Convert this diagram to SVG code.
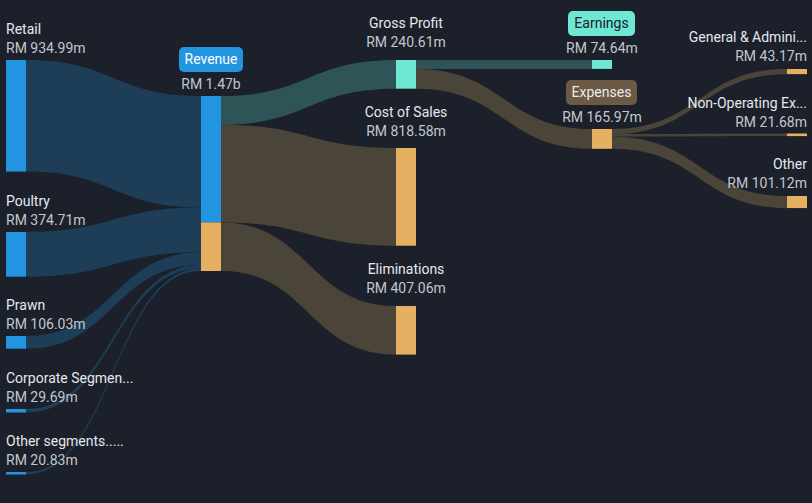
<svg xmlns="http://www.w3.org/2000/svg" width="812" height="503" viewBox="0 0 812 503">
<style>
text{font-family:Roboto,"Liberation Sans",sans-serif;font-size:14px}
.n{fill:#E6E8EB}
.v{fill:#C3C7CD}
.e{text-anchor:end}
.m{text-anchor:middle}
.lb{fill:#1E3E58}
.lt{fill:#2F5457}
.lo{fill:#4B4539}
.blue{fill:#2394DF}
.org{fill:#E5B062}
.teal{fill:#6EE7D3}
</style>
<rect width="812" height="503" fill="#1B202B"/>
<g id="links">
<path class="lb" d="M26,60 C113.5,60 113.5,96 201,96 L201,207.6 C113.5,207.6 113.5,171.6 26,171.6 Z"/>
<path class="lb" d="M26,232 C113.5,232 113.5,207.6 201,207.6 L201,252.3 C113.5,252.3 113.5,276.7 26,276.7 Z"/>
<path class="lb" d="M26,336 C113.5,336 113.5,252.3 201,252.3 L201,265 C113.5,265 113.5,348.7 26,348.7 Z"/>
<path class="lb" d="M26,409 C113.5,409 113.5,265 201,265 L201,268.5 C113.5,268.5 113.5,412.5 26,412.5 Z"/>
<path class="lb" d="M26,472 C113.5,472 113.5,268.5 201,268.5 L201,271 C113.5,271 113.5,474.5 26,474.5 Z"/>
<path class="lt" d="M221,96 C308.5,96 308.5,60 396,60 L396,88.7 C308.5,88.7 308.5,124.7 221,124.7 Z"/>
<path class="lo" d="M221,124.7 C308.5,124.7 308.5,148 396,148 L396,245.7 C308.5,245.7 308.5,222.4 221,222.4 Z"/>
<path class="lo" d="M221,222.4 C308.5,222.4 308.5,306 396,306 L396,354.6 C308.5,354.6 308.5,271 221,271 Z"/>
<path class="lt" d="M416,60 L592,60 L592,68.9 L416,68.9 Z"/>
<path class="lo" d="M416,68.9 C504,68.9 504,129 592,129 L592,148.8 C504,148.8 504,88.7 416,88.7 Z"/>
<path class="lo" d="M612,129 C699.5,129 699.5,69 787,69 L787,74.15 C699.5,74.15 699.5,134.15 612,134.15 Z"/>
<path class="lo" d="M612,134.15 C699.5,134.15 699.5,133.5 787,133.5 L787,136.1 C699.5,136.1 699.5,136.74 612,136.74 Z"/>
<path class="lo" d="M612,136.74 C699.5,136.74 699.5,196 787,196 L787,208.07 C699.5,208.07 699.5,148.8 612,148.8 Z"/>
</g>
<g id="retail">
<rect class="blue" x="6" y="60" width="20" height="111.6"/>
<text class="n" x="6" y="34">Retail</text>
<text class="v" x="6" y="53">RM 934.99m</text>
</g>
<g id="poultry">
<rect class="blue" x="6" y="232" width="20" height="44.7"/>
<text class="n" x="6" y="206">Poultry</text>
<text class="v" x="6" y="225">RM 374.71m</text>
</g>
<g id="prawn">
<rect class="blue" x="6" y="336" width="20" height="12.7"/>
<text class="n" x="6" y="310">Prawn</text>
<text class="v" x="6" y="329">RM 106.03m</text>
</g>
<g id="corporate">
<rect class="blue" x="6" y="409" width="20" height="3.5"/>
<text class="n" x="6" y="383">Corporate Segmen...</text>
<text class="v" x="6" y="402">RM 29.69m</text>
</g>
<g id="other-segments">
<rect class="blue" x="6" y="472" width="20" height="2.5"/>
<text class="n" x="6" y="446">Other segments.....</text>
<text class="v" x="6" y="465">RM 20.83m</text>
</g>
<g id="revenue">
<rect class="blue" x="201" y="96" width="20" height="126.4"/>
<rect class="org" x="201" y="222.4" width="20" height="48.6"/>
<rect class="blue" x="179" y="47" width="64" height="25" rx="5"/>
<text class="m" x="211" y="64" fill="#FFFFFF">Revenue</text>
<text class="v m" x="211" y="89">RM 1.47b</text>
</g>
<g id="gross-profit">
<rect class="teal" x="396" y="60" width="20" height="28.7"/>
<text class="n m" x="406" y="28">Gross Profit</text>
<text class="v m" x="406" y="47">RM 240.61m</text>
</g>
<g id="cost-of-sales">
<rect class="org" x="396" y="148" width="20" height="97.7"/>
<text class="n m" x="406" y="117">Cost of Sales</text>
<text class="v m" x="406" y="136">RM 818.58m</text>
</g>
<g id="eliminations">
<rect class="org" x="396" y="306" width="20" height="48.6"/>
<text class="n m" x="406" y="274">Eliminations</text>
<text class="v m" x="406" y="293">RM 407.06m</text>
</g>
<g id="earnings">
<rect class="teal" x="592" y="60" width="20" height="8.9"/>
<rect class="teal" x="568" y="11" width="67" height="25" rx="5"/>
<text class="m" x="601.5" y="28" fill="#1B202B">Earnings</text>
<text class="v m" x="602" y="53">RM 74.64m</text>
</g>
<g id="expenses">
<rect class="org" x="592" y="129" width="20" height="19.8"/>
<rect x="566" y="80" width="71" height="25" rx="5" fill="#6B5A45"/>
<text class="m" x="601.5" y="97" fill="#ECECEC">Expenses</text>
<text class="v m" x="602" y="122">RM 165.97m</text>
</g>
<g id="general-admin">
<rect class="org" x="787" y="69" width="20" height="5.15"/>
<text class="n e" x="807" y="42">General &amp; Admini...</text>
<text class="v e" x="807" y="61">RM 43.17m</text>
</g>
<g id="non-operating">
<rect class="org" x="787" y="133.5" width="20" height="2.6"/>
<text class="n e" x="807" y="108">Non-Operating Ex...</text>
<text class="v e" x="807" y="127">RM 21.68m</text>
</g>
<g id="other">
<rect class="org" x="787" y="196" width="20" height="12.07"/>
<text class="n e" x="807" y="169">Other</text>
<text class="v e" x="807" y="188">RM 101.12m</text>
</g>
</svg>
